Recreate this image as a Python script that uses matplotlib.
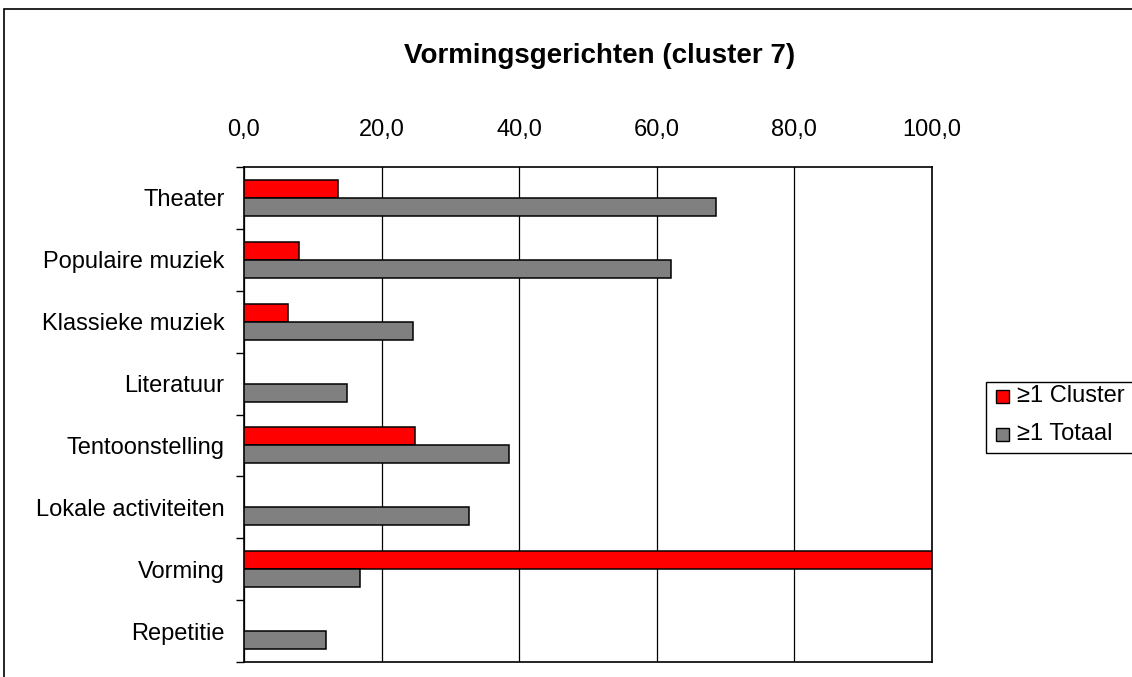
import numpy as np
import matplotlib; matplotlib.use('Agg')
import matplotlib.pyplot as plt
from matplotlib.patches import Rectangle

plt.rcParams['font.family'] = ['Liberation Sans', 'DejaVu Sans']

categories = ['Theater', 'Populaire muziek', 'Klassieke muziek', 'Literatuur',
              'Tentoonstelling', 'Lokale activiteiten', 'Vorming', 'Repetitie']
cluster = [13.6, 8.0, 6.4, 0.0, 24.8, 0.0, 100.0, 0.0]
totaal = [68.6, 62.0, 24.5, 14.9, 38.5, 32.7, 16.8, 11.9]
xticks = [0, 20, 40, 60, 80, 100]
xticklabels = ['0,0', '20,0', '40,0', '60,0', '80,0', '100,0']

W, H = 1132, 677
fig = plt.figure(figsize=(W/100, H/100), dpi=100)
# outer chart frame (cut off at right/bottom)
fig.patches.append(Rectangle((4/W, -0.1), 1.2, 1 - 9/H + 0.1, transform=fig.transFigure,
                             fill=False, ec='black', lw=1.2))

ax = fig.add_axes([244/W, 1 - 662/H, (932-244)/W, (662-167)/H])
y = np.arange(len(categories))
bh = 0.29
ax.barh(y - bh/2, cluster, height=bh, color='#ff0000', edgecolor='black', lw=1.1, zorder=3)
ax.barh(y + bh/2, totaal, height=bh, color='#808080', edgecolor='black', lw=1.1, zorder=3)

ax.set_xlim(0, 100)
ax.set_ylim(len(categories) - 0.5, -0.5)
ax.set_xticks(xticks)
ax.set_xticklabels(xticklabels, fontsize=17)
ax.xaxis.tick_top()
ax.tick_params(axis='x', length=0, pad=19)
ax.grid(axis='x', color='black', lw=0.9, zorder=0)
ax.set_yticks(y)
ax.set_yticklabels(categories, fontsize=17)
ax.set_yticks(np.arange(-0.5, len(categories)), minor=True)
ax.tick_params(axis='y', which='major', length=0, pad=14)
ax.tick_params(axis='y', which='minor', length=6, width=1, direction='out')
for s in ax.spines.values():
    s.set_linewidth(1.2)

fig.text(600/W, 1 - 63/H, 'Vormingsgerichten (cluster 7)', ha='center', va='baseline',
         fontsize=20, fontweight='bold')

# legend
fig.patches.append(Rectangle((986/W, 1 - 453/H), 0.2, (453-382)/H, transform=fig.transFigure,
                             fill=False, ec='black', lw=1))
for i, (lab, col) in enumerate([('≥1 Cluster', '#ff0000'), ('≥1 Totaal', '#808080')]):
    yc = 396 + i*38
    fig.patches.append(Rectangle((996/W, 1 - (yc+7)/H), 13/W, 13/H, transform=fig.transFigure,
                                 fc=col, ec='black', lw=1))
    fig.text(1017/W, 1 - yc/H, lab, ha='left', va='center', fontsize=17)

fig.savefig('out.png', dpi=100)
